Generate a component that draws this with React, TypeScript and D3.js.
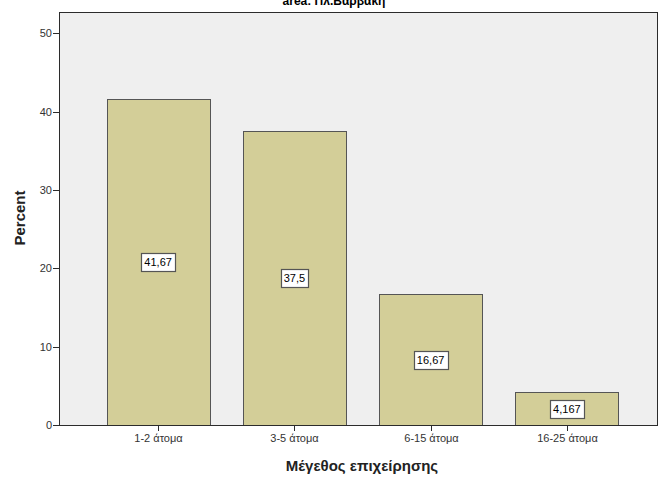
import React from "react";
import * as d3 from "d3";

const categories = ["1-2 άτομα", "3-5 άτομα", "6-15 άτομα", "16-25 άτομα"];
const values = [41.67, 37.5, 16.67, 4.167];
const valueLabels = ["41,67", "37,5", "16,67", "4,167"];
const yTicks = [0, 10, 20, 30, 40, 50];
const title = "area: Πλ.Βαρβάκη";
const xTitle = "Μέγεθος επιχείρησης";
const yTitle = "Percent";

const W = 659;
const H = 478;
const plot = { left: 59, top: 12, right: 658, bottom: 425 };

function labelWidth(s: string) {
  let w = 0;
  for (const c of s) w += c === "," || c === "." ? 3.1 : 6.1;
  return w + 6;
}

export default function App() {
  const x = d3
    .scaleBand<string>()
    .domain(categories)
    .range([90, 635])
    .paddingInner(0.245)
    .paddingOuter(0.1225);
  const y = d3.scaleLinear().domain([0, 52.74]).range([plot.bottom, plot.top]);
  const font = "Arial, 'Liberation Sans', sans-serif";

  return (
    <svg
      width={W}
      height={H}
      style={{ position: "absolute", left: 0, top: 0, background: "#fff" }}
    >
      <rect x={0} y={0} width={W} height={H} fill="#fff" />
      <text
        x={334}
        y={5}
        textAnchor="middle"
        fontFamily={font}
        fontWeight="bold"
        fontSize={12}
        fill="#000"
      >
        {title}
      </text>
      <rect
        x={plot.left + 0.5}
        y={plot.top + 0.5}
        width={plot.right - plot.left - 1}
        height={plot.bottom - plot.top}
        fill="#efefef"
        stroke="#2b2b2b"
        strokeWidth={1}
      />
      {categories.map((c, i) => {
        const bx = x(c)!;
        const bw = x.bandwidth();
        const top = y(values[i]);
        return (
          <rect
            key={c}
            x={Math.round(bx) + 0.5}
            y={Math.round(top) + 0.5}
            width={Math.round(bw)}
            height={plot.bottom - Math.round(top)}
            fill="#d3ce98"
            stroke="#555555"
            strokeWidth={1}
          />
        );
      })}
      {categories.map((c, i) => {
        const cx = x(c)! + x.bandwidth() / 2;
        const cy = y(values[i] / 2);
        const w = labelWidth(valueLabels[i]);
        const h = 18;
        return (
          <g key={"l" + c}>
            <rect
              x={Math.round(cx - w / 2) + 0.5}
              y={Math.round(cy - h / 2) + 0.5}
              width={Math.round(w)}
              height={h}
              fill="#fff"
              stroke="#555"
              strokeWidth={1.2}
            />
            <text
              x={cx}
              y={cy + 4}
              textAnchor="middle"
              fontFamily={font}
              fontSize={11}
              fill="#000"
            >
              {valueLabels[i]}
            </text>
          </g>
        );
      })}
      <line x1={plot.left + 0.5} x2={plot.left + 0.5} y1={plot.top} y2={plot.bottom + 0.5} stroke="#2b2b2b" />
      {yTicks.map((t) => (
        <g key={"y" + t}>
          <line
            x1={plot.left - 6}
            x2={plot.left}
            y1={Math.round(y(t)) + 0.5}
            y2={Math.round(y(t)) + 0.5}
            stroke="#2b2b2b"
          />
          <text
            x={plot.left - 7}
            y={y(t) + 4}
            textAnchor="end"
            fontFamily={font}
            fontSize={11}
            fill="#333"
          >
            {t}
          </text>
        </g>
      ))}
      <line x1={plot.left} x2={plot.right} y1={plot.bottom + 0.5} y2={plot.bottom + 0.5} stroke="#2b2b2b" />
      {categories.map((c) => {
        const cx = Math.round(x(c)! + x.bandwidth() / 2) + 0.5;
        return (
          <g key={"x" + c}>
            <line x1={cx} x2={cx} y1={plot.bottom} y2={plot.bottom + 6} stroke="#2b2b2b" />
            <text
              x={cx}
              y={442}
              textAnchor="middle"
              fontFamily={font}
              fontSize={11}
              fill="#333"
            >
              {c}
            </text>
          </g>
        );
      })}
      <text
        x={362}
        y={471}
        textAnchor="middle"
        fontFamily={font}
        fontWeight="bold"
        fontSize={15}
        fill="#222"
      >
        {xTitle}
      </text>
      <text
        transform={`translate(25,218) rotate(-90)`}
        textAnchor="middle"
        fontFamily={font}
        fontWeight="bold"
        fontSize={15}
        fill="#222"
      >
        {yTitle}
      </text>
    </svg>
  );
}
